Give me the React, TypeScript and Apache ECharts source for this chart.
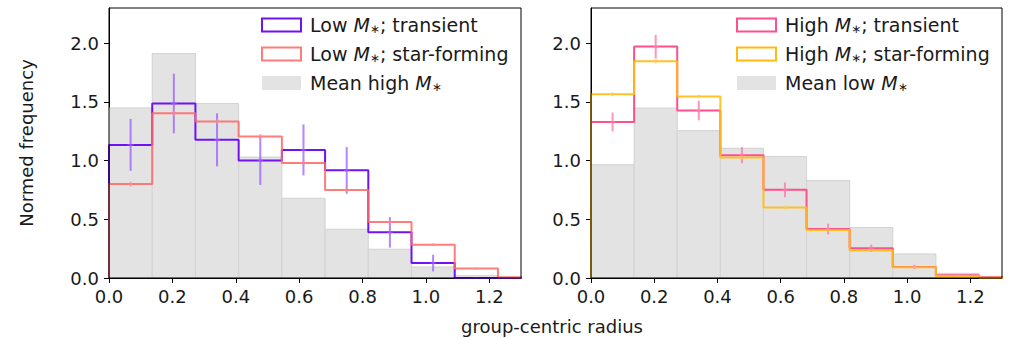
import React, { useEffect, useRef } from "react";
import * as echarts from "echarts";

const BIN_EDGES = [0, 0.1364, 0.2727, 0.4091, 0.5455, 0.6818, 0.8182, 0.9545, 1.0909, 1.2273, 1.3636];
const X_TICKS = [0, 0.2, 0.4, 0.6, 0.8, 1.0, 1.2];
const Y_TICKS = [0, 0.5, 1.0, 1.5, 2.0];

const LOW_TRANSIENT = [1.134, 1.486, 1.177, 1.0, 1.091, 0.917, 0.389, 0.127, 0.0, 0.0];
const LOW_TRANSIENT_ERR = [0.221, 0.254, 0.226, 0.207, 0.217, 0.199, 0.13, 0.071, 0, 0];
const LOW_SF = [0.8, 1.403, 1.334, 1.206, 0.98, 0.749, 0.477, 0.284, 0.08, 0.006];
const LOW_SF_ERR = [0.02, 0.025, 0.022, 0.02, 0.02, 0.018, 0.015, 0.012, 0.008, 0.003];
const MEAN_HIGH = [1.449, 1.912, 1.486, 1.03, 0.679, 0.415, 0.245, 0.094, 0.02, 0.004];

const HIGH_TRANSIENT = [1.329, 1.971, 1.426, 1.046, 0.751, 0.417, 0.254, 0.094, 0.023, 0.006];
const HIGH_TRANSIENT_ERR = [0.081, 0.1, 0.083, 0.07, 0.063, 0.046, 0.03, 0.018, 0.01, 0.004];
const HIGH_SF = [1.566, 1.846, 1.546, 1.026, 0.6, 0.409, 0.234, 0.091, 0.017, 0.003];
const HIGH_SF_ERR = [0.015, 0.018, 0.015, 0.012, 0.01, 0.008, 0.006, 0.005, 0.003, 0.001];
const MEAN_LOW = [0.965, 1.447, 1.255, 1.105, 1.035, 0.83, 0.43, 0.205, 0.04, 0.005];

const LEGEND_LEFT = ["Low {m|M}{s|∗}; transient", "Low {m|M}{s|∗}; star-forming", "Mean high {m|M}{s|∗}"];
const LEGEND_RIGHT = ["High {m|M}{s|∗}; transient", "High {m|M}{s|∗}; star-forming", "Mean low {m|M}{s|∗}"];

const FONT = "DejaVu Sans";
const PURPLE = "#7013f2";
const RED = "#ff6565";
const PINK = "#ff4f8c";
const GOLD = "#ffbb10";
const GREY = "#e3e3e3";

function stepPoints(values: number[]) {
  const pts: number[][] = [[BIN_EDGES[0], 0]];
  values.forEach((v, i) => {
    pts.push([BIN_EDGES[i], v]);
    pts.push([BIN_EDGES[i + 1], v]);
  });
  pts.push([BIN_EDGES[values.length], 0]);
  return pts;
}

function stepSeries(idx: number, values: number[], color: string, opacity: number, z: number) {
  return {
    type: "line",
    xAxisIndex: idx,
    yAxisIndex: idx,
    data: stepPoints(values),
    showSymbol: false,
    symbol: "none",
    clip: true,
    z,
    lineStyle: { color, width: 2, opacity },
    silent: true,
  };
}

function barSeries(idx: number, values: number[]) {
  return {
    type: "custom",
    xAxisIndex: idx,
    yAxisIndex: idx,
    z: 1,
    clip: true,
    silent: true,
    data: values.map((v, i) => [BIN_EDGES[i], BIN_EDGES[i + 1], v]),
    encode: { x: [0, 1], y: 2 },
    renderItem: (params: any, api: any) => {
      const p0 = api.coord([api.value(0), api.value(2)]);
      const p1 = api.coord([api.value(1), 0]);
      const shape = echarts.graphic.clipRectByRect(
        { x: p0[0], y: p0[1], width: p1[0] - p0[0], height: p1[1] - p0[1] },
        params.coordSys
      );
      if (!shape) return null;
      return {
        type: "rect",
        shape,
        style: { fill: GREY, stroke: "#d2d2d2", lineWidth: 1 },
      };
    },
  };
}

function errSeries(idx: number, values: number[], errs: number[], color: string, opacity: number, z: number) {
  return {
    type: "custom",
    xAxisIndex: idx,
    yAxisIndex: idx,
    z,
    clip: true,
    silent: true,
    data: values.map((v, i) => [(BIN_EDGES[i] + BIN_EDGES[i + 1]) / 2, v, errs[i]]),
    encode: { x: 0, y: 1 },
    renderItem: (params: any, api: any) => {
      const x = api.value(0);
      const y = api.value(1);
      const e = api.value(2);
      const a = api.coord([x, y - e]);
      const b = api.coord([x, y + e]);
      const c = api.coord([x, y]);
      return {
        type: "group",
        children: [
          {
            type: "line",
            shape: { x1: a[0], y1: a[1], x2: b[0], y2: b[1] },
            style: { stroke: color, lineWidth: 2, opacity },
          },
          {
            type: "line",
            shape: { x1: c[0] - 3, y1: c[1], x2: c[0] + 3, y2: c[1] },
            style: { stroke: color, lineWidth: 1.5, opacity: opacity * 0.8 },
          },
        ],
      };
    },
  };
}

function legendGraphics(x0: number, labels: string[], colors: string[]) {
  const rows = [25, 54, 83];
  const els: any[] = [];
  labels.forEach((lab, i) => {
    if (i < 2) {
      els.push({
        type: "rect",
        shape: { x: x0, y: rows[i] - 6.5, width: 39, height: 13 },
        style: { fill: "none", stroke: colors[i], lineWidth: 2, opacity: i === 1 && colors[i] === RED ? 0.85 : 1 },
        z: 100,
      });
    } else {
      els.push({
        type: "rect",
        shape: { x: x0, y: rows[i] - 7, width: 39, height: 14 },
        style: { fill: GREY },
        z: 100,
      });
    }
    els.push({
      type: "text",
      x: x0 + 48,
      y: rows[i],
      z: 100,
      style: {
        text: lab,
        fontFamily: FONT,
        fontSize: 19,
        fill: "#1a1a1a",
        verticalAlign: "middle",
        rich: {
          m: { fontStyle: "italic", fontFamily: FONT, fontSize: 19, fill: "#1a1a1a" },
          s: { fontFamily: FONT, fontSize: 12, fill: "#1a1a1a", verticalAlign: "bottom", padding: [7, 0, 0, 0] },
        },
      },
    });
  });
  return els;
}

function axisX(idx: number) {
  return {
    type: "value",
    gridIndex: idx,
    min: 0,
    max: 1.3,
    interval: 0.2,
    splitLine: { show: false },
    axisLine: { show: true, onZero: false, lineStyle: { color: "#000", width: 1 } },
    axisTick: { show: true, inside: false, length: 5, lineStyle: { color: "#000" }, customValues: X_TICKS },
    axisLabel: {
      show: true,
      margin: 9,
      fontFamily: FONT,
      fontSize: 18,
      color: "#1a1a1a",
      customValues: X_TICKS,
      formatter: (v: number) => v.toFixed(1),
    },
  };
}

function axisY(idx: number, name: string) {
  return {
    type: "value",
    gridIndex: idx,
    min: 0,
    max: 2.3,
    interval: 0.5,
    name,
    nameLocation: "middle",
    nameGap: 74,
    nameTextStyle: { fontFamily: FONT, fontSize: 18, color: "#1a1a1a" },
    splitLine: { show: false },
    axisLine: { show: true, onZero: false, lineStyle: { color: "#000", width: 1 } },
    axisTick: { show: true, inside: false, length: 5, lineStyle: { color: "#000" }, customValues: Y_TICKS },
    axisLabel: {
      show: true,
      margin: 10,
      fontFamily: FONT,
      fontSize: 18,
      color: "#1a1a1a",
      customValues: Y_TICKS,
      formatter: (v: number) => v.toFixed(1),
    },
  };
}

export default function App() {
  const ref = useRef<HTMLDivElement>(null);
  useEffect(() => {
    document.body.style.margin = "0";
    if (!ref.current) return;
    const chart = echarts.init(ref.current, null, { renderer: "svg" });
    chart.setOption({
      animation: false,
      backgroundColor: "#ffffff",
      grid: [
        { left: 109, top: 8, width: 412, height: 270, show: true, borderColor: "#000", borderWidth: 1, backgroundColor: "transparent", z: 50 },
        { left: 591, top: 8, width: 411, height: 270, show: true, borderColor: "#000", borderWidth: 1, backgroundColor: "transparent", z: 50 },
      ],
      xAxis: [axisX(0), axisX(1)],
      yAxis: [axisY(0, "Normed frequency"), axisY(1, "")],
      series: [
        barSeries(0, MEAN_HIGH),
        stepSeries(0, LOW_TRANSIENT, PURPLE, 1, 3),
        stepSeries(0, LOW_SF, RED, 0.85, 4),
        errSeries(0, LOW_TRANSIENT, LOW_TRANSIENT_ERR, "#9a5cff", 0.75, 5),
        errSeries(0, LOW_SF, LOW_SF_ERR, "#ff8a8a", 0.7, 6),
        barSeries(1, MEAN_LOW),
        stepSeries(1, HIGH_TRANSIENT, PINK, 1, 3),
        stepSeries(1, HIGH_SF, GOLD, 0.9, 4),
        errSeries(1, HIGH_TRANSIENT, HIGH_TRANSIENT_ERR, "#ff7aa8", 0.8, 5),
        errSeries(1, HIGH_SF, HIGH_SF_ERR, "#ffc84a", 0.7, 6),
      ],
      graphic: [
        ...legendGraphics(262, LEGEND_LEFT, [PURPLE, RED, GREY]),
        ...legendGraphics(737, LEGEND_RIGHT, [PINK, GOLD, GREY]),
        {
          type: "text",
          x: 552,
          y: 326,
          style: {
            text: "group-centric radius",
            fontFamily: FONT,
            fontSize: 18,
            fill: "#1a1a1a",
            align: "center",
            verticalAlign: "middle",
          },
        },
      ],
    });
    return () => chart.dispose();
  }, []);
  return <div ref={ref} style={{ width: 1013, height: 338 }} />;
}
